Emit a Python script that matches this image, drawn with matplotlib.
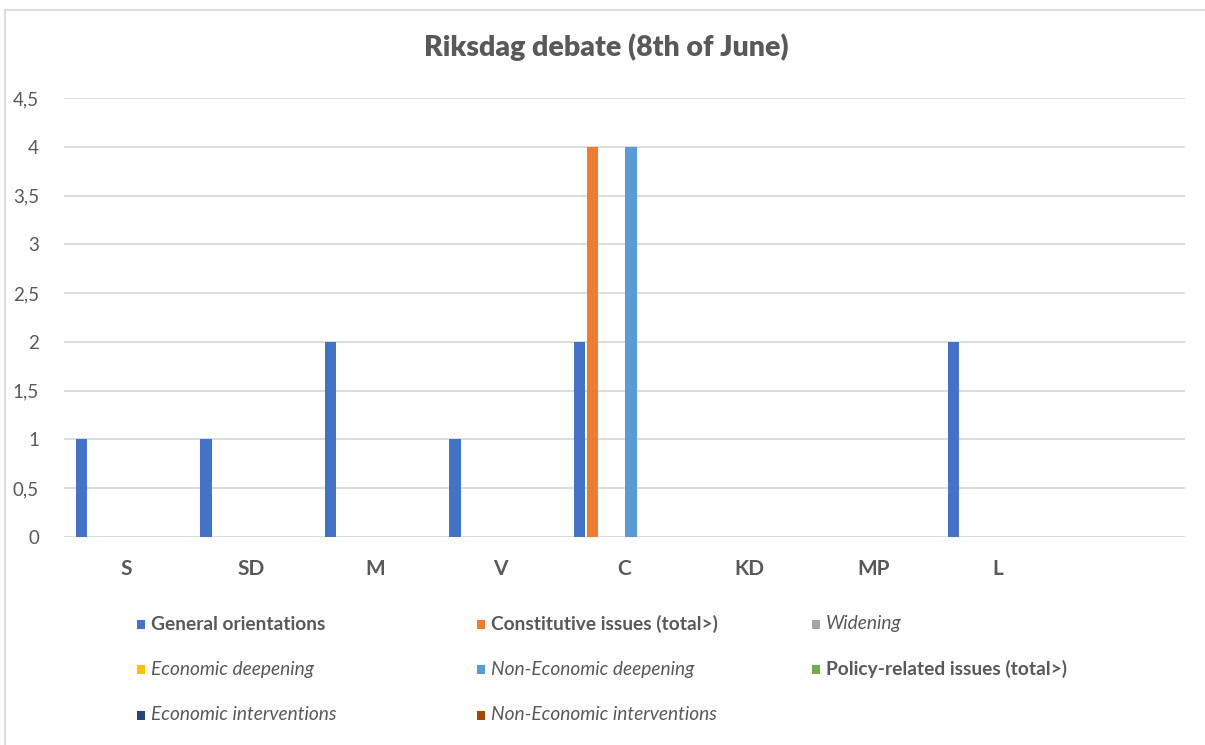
import matplotlib
matplotlib.use("Agg")
import matplotlib.pyplot as plt
from matplotlib.patches import Rectangle
import numpy as np

# Parties (the last slot is left empty on the axis)
parties = ["S", "SD", "M", "V", "C", "KD", "MP", "L", ""]

series_names = [
    "General orientations",
    "Constitutive issues (total>)",
    "Widening",
    "Economic deepening",
    "Non-Economic deepening",
    "Policy-related issues (total>)",
    "Economic interventions",
    "Non-Economic interventions",
]
series_colors = ["#4472C4", "#ED7D31", "#A5A5A5", "#FFC000",
                 "#5B9BD5", "#70AD47", "#264478", "#9E480E"]
series_bold = [True, True, False, False, False, True, False, False]

general_orientations = [1, 1, 2, 1, 2, 0, 0, 2, 0]
constitutive_issues = [0, 0, 0, 0, 4, 0, 0, 0, 0]
widening = [0, 0, 0, 0, 0, 0, 0, 0, 0]
economic_deepening = [0, 0, 0, 0, 0, 0, 0, 0, 0]
non_economic_deepening = [0, 0, 0, 0, 4, 0, 0, 0, 0]
policy_related = [0, 0, 0, 0, 0, 0, 0, 0, 0]
economic_interventions = [0, 0, 0, 0, 0, 0, 0, 0, 0]
non_economic_interventions = [0, 0, 0, 0, 0, 0, 0, 0, 0]

series_values = [general_orientations, constitutive_issues, widening,
                 economic_deepening, non_economic_deepening, policy_related,
                 economic_interventions, non_economic_interventions]

y_ticks = [0, 0.5, 1, 1.5, 2, 2.5, 3, 3.5, 4, 4.5]
y_tick_labels = ["0", "0,5", "1", "1,5", "2", "2,5", "3", "3,5", "4", "4,5"]

TEXT = "#595959"
GRID = "#D9D9D9"
FONT = "Lato"

W, H = 1205, 745
fig = plt.figure(figsize=(W / 100, H / 100), dpi=100)
fig.patch.set_facecolor("white")

# outer chart frame
fig.patches.append(Rectangle((5 / W, -0.1), 1.2, (H - 10) / H + 0.1,
                             transform=fig.transFigure, fill=False,
                             edgecolor=GRID, linewidth=1.3))

left, right, top, bottom = 64, 1185, 98, 537
ax = fig.add_axes([left / W, (H - bottom) / H, (right - left) / W, (bottom - top) / H])

x = np.arange(len(parties))
pitch = 0.1027
bar_w = 0.0915
n = len(series_values)
for i, (vals, col) in enumerate(zip(series_values, series_colors)):
    ax.bar(x + (i - (n - 1) / 2) * pitch, vals, width=bar_w, color=col,
           linewidth=0, zorder=3)

ax.set_xlim(-0.5, len(parties) - 0.5)
ax.set_ylim(0, 4.5)
ax.set_yticks(y_ticks)
ax.set_yticklabels(y_tick_labels, fontsize=13.5, color=TEXT, family=FONT)
ax.set_xticks(x)
ax.set_xticklabels(parties, fontsize=15, color=TEXT, family=FONT, fontweight="bold")
ax.tick_params(axis="both", length=0)
ax.tick_params(axis="y", pad=18)
ax.tick_params(axis="x", pad=16)
for s in ax.spines.values():
    s.set_visible(False)
ax.grid(axis="y", color=GRID, linewidth=1.3, zorder=0)
ax.set_axisbelow(True)

fig.text(606 / W, 1 - 47 / H, "Riksdag debate (8th of June)", ha="center", va="center",
         fontsize=20.5, fontweight="heavy", color=TEXT, family=FONT)

# legend, three columns
col_marker_x = [137, 477, 812]
row_y = [624, 669, 715]
for i, (name, col, bold) in enumerate(zip(series_names, series_colors, series_bold)):
    r, c = divmod(i, 3)
    mx, my = col_marker_x[c], row_y[r]
    fig.patches.append(Rectangle((mx / W, 1 - (my + 4.5) / H), 8 / W, 9 / H,
                                 transform=fig.transFigure, facecolor=col,
                                 edgecolor="none"))
    fig.text((mx + 14) / W, 1 - my / H, name, ha="left", va="center",
             fontsize=13.8, color=TEXT, family=FONT,
             fontweight="bold" if bold else "normal",
             fontstyle="normal" if bold else "italic")

fig.savefig("out.png", dpi=100, facecolor="white")
